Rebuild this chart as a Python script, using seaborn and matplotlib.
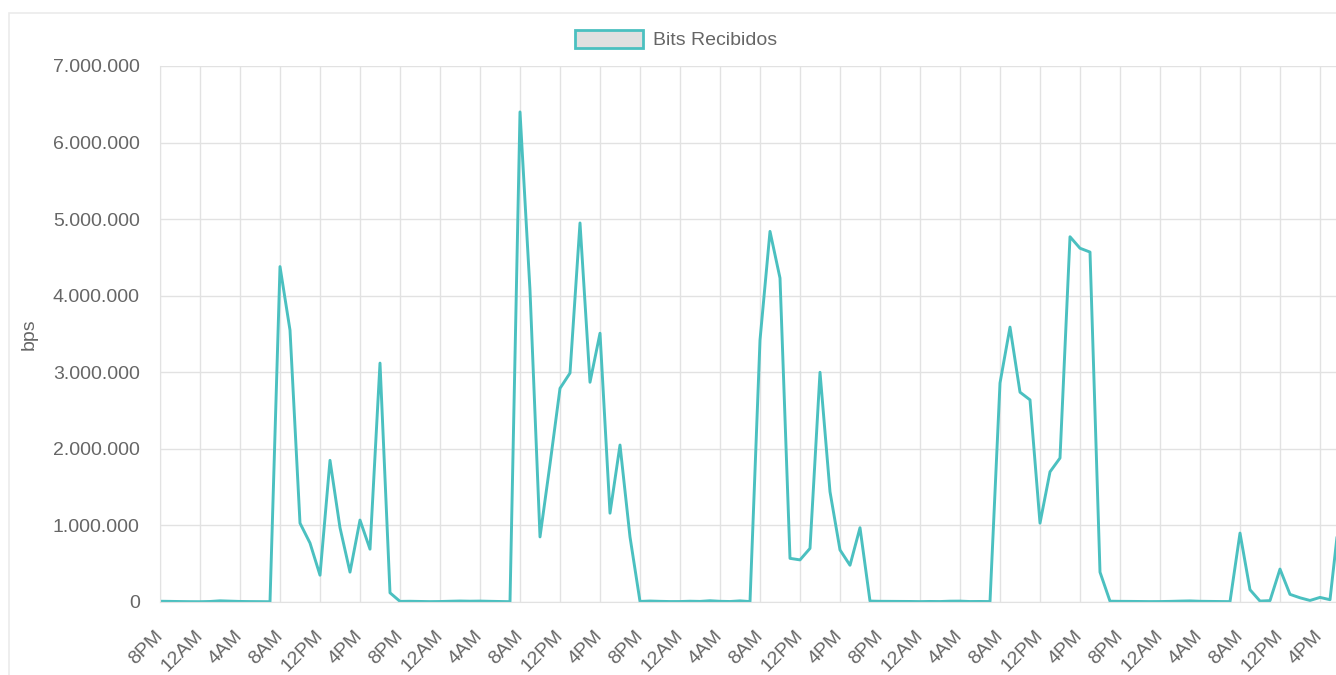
import pandas as pd
import matplotlib
matplotlib.use("Agg")
import matplotlib.pyplot as plt
import seaborn as sns
from matplotlib.patches import Patch, Rectangle
from matplotlib.ticker import FuncFormatter

# hourly samples, hour 0 = 8PM of the first day
bits_recibidos = [
    9800, 8200, 6100, 4500, 3900, 6800, 15400, 11200, 7300, 5600, 4800, 3500,
    4380000, 3550000, 1030000, 770000, 350000, 1850000, 970000, 390000, 1070000, 690000, 3120000, 120000,
    8000, 9500, 7200, 5000, 6300, 9900, 12800, 10400, 11900, 9000, 6500, 4200,
    6400000, 4070000, 850000, 1800000, 2790000, 2990000, 4950000, 2870000, 3510000, 1160000, 2050000, 850000,
    7500, 12600, 8800, 5900, 6100, 10300, 7700, 16500, 9200, 6400, 14800, 5300,
    3420000, 4840000, 4230000, 570000, 550000, 700000, 3000000, 1440000, 680000, 480000, 970000, 12000,
    9100, 8400, 7600, 6900, 5200, 7100, 6000, 10800, 11500, 6300, 7000, 5800,
    2860000, 3590000, 2740000, 2640000, 1030000, 1700000, 1880000, 4770000, 4620000, 4570000, 390000, 10500,
    8700, 7900, 6600, 5400, 5900, 8100, 11600, 14200, 9400, 7800, 6200, 5100,
    900000, 160000, 12000, 18000, 430000, 100000, 55000, 20000, 60000, 30000, 1200000,
]
horas = list(range(len(bits_recibidos)))

tick_horas = list(range(0, 117, 4))
tick_labels = ["8PM", "12AM", "4AM", "8AM", "12PM", "4PM"] * 5

df = pd.DataFrame({"hora": horas, "bps": bits_recibidos})

sns.set_style("whitegrid", {"grid.color": "#e2e2e2", "axes.edgecolor": "#e2e2e2"})
plt.rcParams["font.family"] = ["Liberation Sans", "DejaVu Sans"]
plt.rcParams["font.size"] = 14

teal = "#4bc0c0"
gris = "#666666"

fig = plt.figure(figsize=(13.36, 6.75), dpi=100)
fig.patches.append(Rectangle((8.5 / 1336, -0.1), 1.2, 1 - 12.5 / 675 + 0.1,
                             transform=fig.transFigure, fill=False,
                             edgecolor="#ebebeb", lw=1.2, zorder=0))

ax = fig.add_axes([160 / 1336, 1 - 602 / 675, 1 - 160 / 1336, (602 - 66) / 675])
sns.lineplot(data=df, x="hora", y="bps", color=teal, linewidth=2.1, ax=ax)

ax.set_xlim(0, 117.6)
ax.set_ylim(0, 7000000)
ax.set_yticks(range(0, 7000001, 1000000))
ax.yaxis.set_major_formatter(FuncFormatter(lambda v, p: f"{int(v):,}".replace(",", ".")))
ax.set_xticks(tick_horas)
ax.set_xticklabels(tick_labels, rotation=45, ha="right", va="center",
                   rotation_mode="anchor")
ax.tick_params(axis="both", length=9.5, width=1, color="#e2e2e2",
               labelcolor=gris, labelsize=14)
ax.tick_params(axis="y", pad=5)
ax.tick_params(axis="x", pad=13)
ax.grid(True, color="#e2e2e2", lw=1)
for s in ["top", "right"]:
    ax.spines[s].set_visible(False)
ax.set_xlabel("")
ax.set_ylabel("bps", color=gris, fontsize=14)
ax.yaxis.set_label_coords(-122 / 1176, 0.5)

fig.legend(handles=[Patch(facecolor="#e0e0e0", edgecolor=teal, lw=2, label="Bits Recibidos")],
           loc="center", bbox_to_anchor=(676 / 1336, 1 - 39.5 / 675), frameon=False,
           handlelength=3.5, handleheight=1.05, handletextpad=0.5,
           labelcolor=gris, fontsize=14)

fig.savefig("out.png", dpi=100)
